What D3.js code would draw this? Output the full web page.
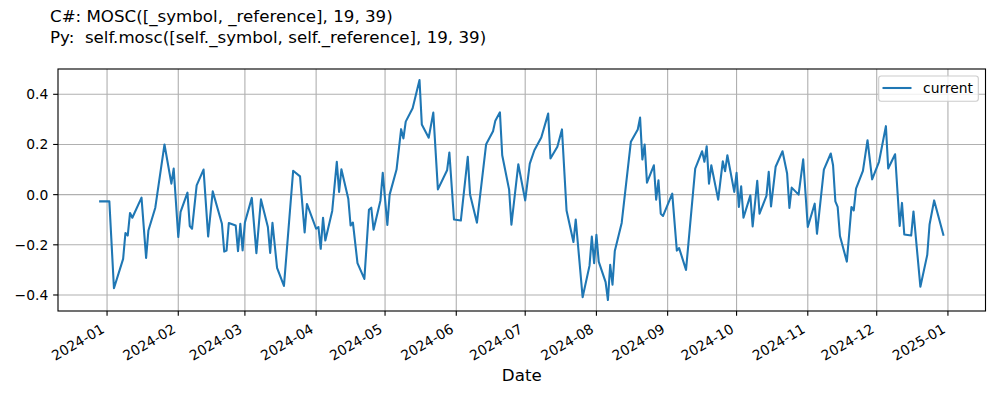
<!DOCTYPE html>
<html><head><meta charset="utf-8">
<script src="https://cdn.jsdelivr.net/npm/d3@7"></script>
<style>body{margin:0;background:#fff}svg{display:block}text{font-family:"DejaVu Sans",sans-serif}</style>
</head><body>
<svg id="c" width="1000" height="400"></svg>
<script>
const titleLines = ["C#: MOSC([_symbol, _reference], 19, 39)", "Py:  self.mosc([self._symbol, self._reference], 19, 39)"];
const seriesName = "current";
const xLabel = "Date";
const dates = ["2023-12-29","2024-01-02","2024-01-04","2024-01-08","2024-01-09","2024-01-10","2024-01-11","2024-01-12","2024-01-16","2024-01-18","2024-01-19","2024-01-22","2024-01-26","2024-01-29","2024-01-30","2024-02-01","2024-02-02","2024-02-05","2024-02-06","2024-02-07","2024-02-09","2024-02-12","2024-02-14","2024-02-16","2024-02-20","2024-02-21","2024-02-22","2024-02-23","2024-02-26","2024-02-27","2024-02-28","2024-02-29","2024-03-01","2024-03-04","2024-03-06","2024-03-08","2024-03-11","2024-03-12","2024-03-13","2024-03-15","2024-03-18","2024-03-22","2024-03-25","2024-03-27","2024-03-28","2024-04-01","2024-04-02","2024-04-03","2024-04-04","2024-04-05","2024-04-08","2024-04-10","2024-04-11","2024-04-12","2024-04-15","2024-04-16","2024-04-17","2024-04-19","2024-04-22","2024-04-24","2024-04-25","2024-04-26","2024-04-29","2024-04-30","2024-05-02","2024-05-03","2024-05-06","2024-05-08","2024-05-09","2024-05-10","2024-05-13","2024-05-16","2024-05-17","2024-05-20","2024-05-22","2024-05-24","2024-05-28","2024-05-29","2024-05-31","2024-06-03","2024-06-06","2024-06-07","2024-06-10","2024-06-14","2024-06-17","2024-06-18","2024-06-20","2024-06-21","2024-06-24","2024-06-25","2024-06-28","2024-07-01","2024-07-03","2024-07-05","2024-07-08","2024-07-11","2024-07-12","2024-07-15","2024-07-17","2024-07-19","2024-07-22","2024-07-23","2024-07-26","2024-07-29","2024-07-30","2024-07-31","2024-08-01","2024-08-02","2024-08-05","2024-08-06","2024-08-07","2024-08-08","2024-08-09","2024-08-12","2024-08-16","2024-08-19","2024-08-20","2024-08-21","2024-08-22","2024-08-23","2024-08-26","2024-08-27","2024-08-28","2024-08-29","2024-08-30","2024-09-03","2024-09-05","2024-09-06","2024-09-09","2024-09-13","2024-09-16","2024-09-17","2024-09-18","2024-09-19","2024-09-20","2024-09-23","2024-09-25","2024-09-26","2024-09-27","2024-09-30","2024-10-01","2024-10-02","2024-10-03","2024-10-04","2024-10-07","2024-10-08","2024-10-10","2024-10-11","2024-10-14","2024-10-15","2024-10-16","2024-10-18","2024-10-21","2024-10-23","2024-10-24","2024-10-25","2024-10-28","2024-10-30","2024-11-01","2024-11-04","2024-11-05","2024-11-08","2024-11-11","2024-11-12","2024-11-13","2024-11-14","2024-11-15","2024-11-18","2024-11-20","2024-11-21","2024-11-22","2024-11-25","2024-11-27","2024-11-29","2024-12-02","2024-12-05","2024-12-06","2024-12-09","2024-12-11","2024-12-12","2024-12-13","2024-12-16","2024-12-17","2024-12-20","2024-12-23","2024-12-24","2024-12-26","2024-12-30"];
const values = [-0.027,-0.027,-0.373,-0.256,-0.153,-0.163,-0.073,-0.092,-0.012,-0.252,-0.143,-0.052,0.200,0.044,0.104,-0.169,-0.069,0.008,-0.125,-0.136,0.037,0.100,-0.167,0.013,-0.116,-0.227,-0.223,-0.113,-0.123,-0.225,-0.116,-0.222,-0.111,-0.013,-0.233,-0.019,-0.129,-0.232,-0.112,-0.292,-0.364,0.095,0.073,-0.151,-0.037,-0.136,-0.129,-0.216,-0.092,-0.183,-0.065,0.131,0.011,0.101,-0.016,-0.123,-0.111,-0.273,-0.336,-0.060,-0.052,-0.140,-0.023,0.087,-0.121,0.000,0.100,0.261,0.224,0.291,0.344,0.457,0.280,0.227,0.327,0.021,0.097,0.168,-0.099,-0.103,0.151,0.001,-0.112,0.201,0.253,0.295,0.328,0.157,0.020,-0.120,0.121,-0.023,0.124,0.177,0.228,0.323,0.144,0.191,0.260,-0.063,-0.189,-0.099,-0.409,-0.283,-0.167,-0.273,-0.160,-0.267,-0.349,-0.420,-0.280,-0.359,-0.225,-0.113,0.211,0.260,0.307,0.140,0.200,0.048,0.117,-0.020,0.057,-0.076,-0.085,0.004,-0.223,-0.213,-0.300,0.104,0.173,0.131,0.193,0.044,0.117,-0.020,0.133,0.093,0.157,0.011,0.087,-0.049,0.033,-0.092,-0.003,-0.127,0.055,-0.076,-0.005,0.091,-0.047,0.111,0.173,0.084,-0.053,0.028,0.000,0.141,-0.129,-0.036,-0.156,0.100,0.164,0.117,-0.027,-0.049,-0.165,-0.267,-0.049,-0.063,0.024,0.095,0.217,0.061,0.131,0.273,0.104,0.161,-0.125,-0.033,-0.159,-0.163,-0.067,-0.367,-0.240,-0.119,-0.023,-0.160];
const xTickLabels = ["2024-01","2024-02","2024-03","2024-04","2024-05","2024-06","2024-07","2024-08","2024-09","2024-10","2024-11","2024-12","2025-01"];
const yTickValues = [-0.4,-0.2,0.0,0.2,0.4];

const svg = d3.select("#c");
const L = 58, R = 985.5, T = 69, B = 311;
const parse = d3.utcParse("%Y-%m-%d");
const pm = d3.utcParse("%Y-%m");
const data = dates.map((d,i)=>({d:parse(d), v:values[i]}));

const xe = d3.extent(data, d=>+d.d), xs = xe[1]-xe[0];
const ye = d3.extent(values), ys = ye[1]-ye[0];
const x = d3.scaleUtc().domain([new Date(xe[0]-0.05*xs), new Date(xe[1]+0.05*xs)]).range([L,R]);
const y = d3.scaleLinear().domain([ye[0]-0.05*ys, ye[1]+0.05*ys]).range([B,T]);

const FS = 13.89, PT = 100/72, TL = 3.5*PT, PAD = 3.5*PT, LW = 0.8*PT;
// grid
const g = svg.append("g");
xTickLabels.forEach(t=>{
  const px = x(pm(t));
  g.append("line").attr("x1",px).attr("x2",px).attr("y1",T).attr("y2",B).attr("stroke","#b0b0b0").attr("stroke-width",LW);
});
yTickValues.forEach(v=>{
  const py = y(v);
  g.append("line").attr("x1",L).attr("x2",R).attr("y1",py).attr("y2",py).attr("stroke","#b0b0b0").attr("stroke-width",LW);
});

// line
svg.append("path").datum(data)
  .attr("d", d3.line().x(d=>x(d.d)).y(d=>y(d.v)))
  .attr("fill","none").attr("stroke","#1f77b4").attr("stroke-width",1.5*PT).attr("stroke-linejoin","round").attr("stroke-linecap","square");

// spines
svg.append("rect").attr("x",L).attr("y",T).attr("width",R-L).attr("height",B-T).attr("fill","none").attr("stroke","#000").attr("stroke-width",LW);

// x ticks
const h = 16.2, desc = 3.3;
xTickLabels.forEach(t=>{
  const px = x(pm(t));
  svg.append("line").attr("x1",px).attr("x2",px).attr("y1",B).attr("y2",B+TL).attr("stroke","#000").attr("stroke-width",LW);
  svg.append("text").attr("transform",`translate(${px},${B+TL+PAD+0.866*h}) rotate(-30)`)
    .attr("text-anchor","end").attr("y",-desc).attr("font-size",FS).attr("fill","#000").text(t);
});
// y ticks
yTickValues.forEach(v=>{
  const py = y(v);
  svg.append("line").attr("x1",L-TL).attr("x2",L).attr("y1",py).attr("y2",py).attr("stroke","#000").attr("stroke-width",LW);
  svg.append("text").attr("x",L-TL-PAD).attr("y",py).attr("dy","0.36em").attr("text-anchor","end").attr("font-size",FS).attr("fill","#000")
    .text(v.toFixed(1).replace("-","\u2212"));
});

// x label
svg.append("text").attr("x",(L+R)/2).attr("y",381).attr("text-anchor","middle").attr("font-size",16.67).attr("fill","#000").text(xLabel);

// title
titleLines.forEach((t,i)=>{
  svg.append("text").attr("x",50).attr("y",22.3+21*i).attr("font-size",16.67).attr("fill","#000").attr("xml:space","preserve").style("white-space","pre").text(t);
});

// legend
const lg = svg.append("g");
lg.append("rect").attr("x",878.7).attr("y",76).attr("width",99.6).attr("height",25.3).attr("rx",2.5)
  .attr("fill","#fff").attr("fill-opacity",0.8).attr("stroke","#cccccc").attr("stroke-width",LW);
lg.append("line").attr("x1",882.5).attr("x2",911.5).attr("y1",88).attr("y2",88).attr("stroke","#1f77b4").attr("stroke-width",1.5*PT);
lg.append("text").attr("x",923).attr("y",93).attr("font-size",FS).attr("fill","#000").text(seriesName);
</script>
</body></html>
